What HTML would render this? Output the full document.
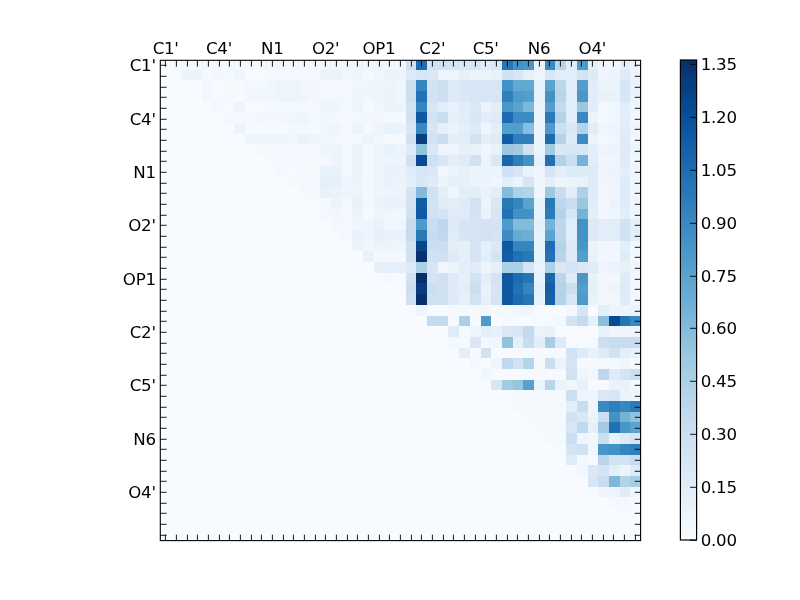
<!DOCTYPE html>
<html><head><meta charset="utf-8"><title>heatmap</title>
<style>
html,body{margin:0;padding:0;background:#fff;}
svg{display:block;}
text{font-family:"DejaVu Sans","Liberation Sans",sans-serif;font-size:16.67px;fill:#000;}
</style></head><body>
<svg width="800" height="600" viewBox="0 0 800 600">
<defs><linearGradient id="cb" x1="0" y1="1" x2="0" y2="0">
<stop offset="0" stop-color="#f7fbff"/>
<stop offset="0.125" stop-color="#deebf7"/>
<stop offset="0.25" stop-color="#c6dbef"/>
<stop offset="0.375" stop-color="#9ecae1"/>
<stop offset="0.5" stop-color="#6baed6"/>
<stop offset="0.625" stop-color="#4292c6"/>
<stop offset="0.75" stop-color="#2171b5"/>
<stop offset="0.875" stop-color="#08519c"/>
<stop offset="1" stop-color="#08306b"/>
</linearGradient></defs>
<rect x="0" y="0" width="800" height="600" fill="#fff"/>
<rect x="160" y="60" width="481" height="481" fill="#f7fbff"/>
<g shape-rendering="crispEdges">
<rect x="170" y="60" width="11" height="10" fill="#f3f8fe"/>
<rect x="181" y="60" width="21" height="10" fill="#f4f9fe"/>
<rect x="202" y="60" width="11" height="10" fill="#f3f8fe"/>
<rect x="213" y="60" width="21" height="10" fill="#f4f9fe"/>
<rect x="234" y="60" width="11" height="10" fill="#f3f8fe"/>
<rect x="245" y="60" width="22" height="10" fill="#f4f9fe"/>
<rect x="267" y="60" width="10" height="10" fill="#f3f8fe"/>
<rect x="277" y="60" width="11" height="10" fill="#f1f7fd"/>
<rect x="288" y="60" width="32" height="10" fill="#f3f8fe"/>
<rect x="320" y="60" width="32" height="10" fill="#f1f7fd"/>
<rect x="352" y="60" width="11" height="10" fill="#f0f6fd"/>
<rect x="363" y="60" width="21" height="10" fill="#f1f7fd"/>
<rect x="384" y="60" width="22" height="10" fill="#f3f8fe"/>
<rect x="406" y="60" width="10" height="10" fill="#cfe1f2"/>
<rect x="416" y="60" width="11" height="10" fill="#1d6cb1"/>
<rect x="427" y="60" width="11" height="10" fill="#d3e3f3"/>
<rect x="438" y="60" width="10" height="10" fill="#d0e2f2"/>
<rect x="448" y="60" width="11" height="10" fill="#d7e6f5"/>
<rect x="459" y="60" width="11" height="10" fill="#dae8f6"/>
<rect x="470" y="60" width="11" height="10" fill="#d7e6f5"/>
<rect x="481" y="60" width="10" height="10" fill="#e1edf8"/>
<rect x="491" y="60" width="11" height="10" fill="#dae8f6"/>
<rect x="502" y="60" width="11" height="10" fill="#2575b7"/>
<rect x="513" y="60" width="10" height="10" fill="#4292c6"/>
<rect x="523" y="60" width="11" height="10" fill="#4997c9"/>
<rect x="534" y="60" width="11" height="10" fill="#e8f2fa"/>
<rect x="545" y="60" width="10" height="10" fill="#3888c1"/>
<rect x="555" y="60" width="11" height="10" fill="#b8d5ea"/>
<rect x="566" y="60" width="11" height="10" fill="#e1edf8"/>
<rect x="577" y="60" width="11" height="10" fill="#4e9acb"/>
<rect x="588" y="60" width="10" height="10" fill="#e5f0f9"/>
<rect x="598" y="60" width="22" height="10" fill="#f0f6fd"/>
<rect x="620" y="60" width="10" height="10" fill="#e5f0f9"/>
<rect x="630" y="60" width="11" height="10" fill="#f0f6fd"/>
<rect x="181" y="70" width="21" height="10" fill="#ebf3fb"/>
<rect x="202" y="70" width="11" height="10" fill="#f4f9fe"/>
<rect x="213" y="70" width="11" height="10" fill="#f1f7fd"/>
<rect x="224" y="70" width="10" height="10" fill="#f4f9fe"/>
<rect x="234" y="70" width="11" height="10" fill="#eef5fc"/>
<rect x="245" y="70" width="22" height="10" fill="#f6faff"/>
<rect x="267" y="70" width="32" height="10" fill="#f4f9fe"/>
<rect x="299" y="70" width="21" height="10" fill="#f3f8fe"/>
<rect x="320" y="70" width="21" height="10" fill="#eaf3fb"/>
<rect x="341" y="70" width="11" height="10" fill="#f0f6fd"/>
<rect x="352" y="70" width="11" height="10" fill="#eef5fc"/>
<rect x="363" y="70" width="11" height="10" fill="#f4f9fe"/>
<rect x="374" y="70" width="10" height="10" fill="#f0f6fd"/>
<rect x="384" y="70" width="11" height="10" fill="#ebf3fb"/>
<rect x="395" y="70" width="11" height="10" fill="#edf4fc"/>
<rect x="406" y="70" width="10" height="10" fill="#deebf7"/>
<rect x="416" y="70" width="11" height="10" fill="#d7e6f5"/>
<rect x="427" y="70" width="11" height="10" fill="#dae8f6"/>
<rect x="438" y="70" width="21" height="10" fill="#edf4fc"/>
<rect x="459" y="70" width="11" height="10" fill="#e5f0f9"/>
<rect x="470" y="70" width="21" height="10" fill="#ebf3fb"/>
<rect x="491" y="70" width="11" height="10" fill="#e8f2fa"/>
<rect x="502" y="70" width="11" height="10" fill="#d0e2f2"/>
<rect x="513" y="70" width="10" height="10" fill="#d7e6f5"/>
<rect x="523" y="70" width="11" height="10" fill="#e5f0f9"/>
<rect x="534" y="70" width="11" height="10" fill="#edf4fc"/>
<rect x="545" y="70" width="10" height="10" fill="#d7e6f5"/>
<rect x="555" y="70" width="22" height="10" fill="#e1edf8"/>
<rect x="577" y="70" width="11" height="10" fill="#d3e3f3"/>
<rect x="588" y="70" width="10" height="10" fill="#ddeaf7"/>
<rect x="598" y="70" width="11" height="10" fill="#edf4fc"/>
<rect x="609" y="70" width="11" height="10" fill="#ebf3fb"/>
<rect x="620" y="70" width="10" height="10" fill="#ddeaf7"/>
<rect x="630" y="70" width="11" height="10" fill="#ebf3fb"/>
<rect x="202" y="80" width="11" height="11" fill="#f1f7fd"/>
<rect x="213" y="80" width="11" height="11" fill="#f6faff"/>
<rect x="224" y="80" width="10" height="11" fill="#f4f9fe"/>
<rect x="234" y="80" width="11" height="11" fill="#f6faff"/>
<rect x="245" y="80" width="22" height="11" fill="#f3f8fe"/>
<rect x="267" y="80" width="10" height="11" fill="#f0f6fd"/>
<rect x="277" y="80" width="22" height="11" fill="#edf4fc"/>
<rect x="299" y="80" width="21" height="11" fill="#f1f7fd"/>
<rect x="320" y="80" width="11" height="11" fill="#f4f9fe"/>
<rect x="331" y="80" width="21" height="11" fill="#f3f8fe"/>
<rect x="352" y="80" width="22" height="11" fill="#f0f6fd"/>
<rect x="374" y="80" width="10" height="11" fill="#eef5fc"/>
<rect x="384" y="80" width="11" height="11" fill="#edf4fc"/>
<rect x="395" y="80" width="11" height="11" fill="#f0f6fd"/>
<rect x="406" y="80" width="10" height="11" fill="#ccdff1"/>
<rect x="416" y="80" width="11" height="11" fill="#3585bf"/>
<rect x="427" y="80" width="11" height="11" fill="#d3e3f3"/>
<rect x="438" y="80" width="10" height="11" fill="#ccdff1"/>
<rect x="448" y="80" width="11" height="11" fill="#ddeaf7"/>
<rect x="459" y="80" width="11" height="11" fill="#dae8f6"/>
<rect x="470" y="80" width="32" height="11" fill="#d7e6f5"/>
<rect x="502" y="80" width="11" height="11" fill="#4292c6"/>
<rect x="513" y="80" width="21" height="11" fill="#62a8d2"/>
<rect x="534" y="80" width="11" height="11" fill="#e8f2fa"/>
<rect x="545" y="80" width="10" height="11" fill="#5aa3cf"/>
<rect x="555" y="80" width="11" height="11" fill="#bdd7ec"/>
<rect x="566" y="80" width="11" height="11" fill="#e1edf8"/>
<rect x="577" y="80" width="11" height="11" fill="#539ecd"/>
<rect x="588" y="80" width="10" height="11" fill="#e1edf8"/>
<rect x="598" y="80" width="22" height="11" fill="#ebf3fb"/>
<rect x="620" y="80" width="10" height="11" fill="#d7e6f5"/>
<rect x="630" y="80" width="11" height="11" fill="#e8f2fa"/>
<rect x="202" y="91" width="11" height="11" fill="#f1f7fd"/>
<rect x="213" y="91" width="11" height="11" fill="#f6faff"/>
<rect x="224" y="91" width="10" height="11" fill="#f3f8fe"/>
<rect x="234" y="91" width="11" height="11" fill="#f6faff"/>
<rect x="245" y="91" width="22" height="11" fill="#f1f7fd"/>
<rect x="267" y="91" width="10" height="11" fill="#f0f6fd"/>
<rect x="277" y="91" width="22" height="11" fill="#edf4fc"/>
<rect x="299" y="91" width="10" height="11" fill="#eef5fc"/>
<rect x="309" y="91" width="11" height="11" fill="#f1f7fd"/>
<rect x="320" y="91" width="32" height="11" fill="#f3f8fe"/>
<rect x="352" y="91" width="11" height="11" fill="#eef5fc"/>
<rect x="363" y="91" width="11" height="11" fill="#f0f6fd"/>
<rect x="374" y="91" width="10" height="11" fill="#edf4fc"/>
<rect x="384" y="91" width="11" height="11" fill="#ebf3fb"/>
<rect x="395" y="91" width="11" height="11" fill="#f0f6fd"/>
<rect x="406" y="91" width="10" height="11" fill="#ccdff1"/>
<rect x="416" y="91" width="11" height="11" fill="#2171b5"/>
<rect x="427" y="91" width="11" height="11" fill="#d3e3f3"/>
<rect x="438" y="91" width="10" height="11" fill="#ccdff1"/>
<rect x="448" y="91" width="11" height="11" fill="#ddeaf7"/>
<rect x="459" y="91" width="11" height="11" fill="#dae8f6"/>
<rect x="470" y="91" width="32" height="11" fill="#d7e6f5"/>
<rect x="502" y="91" width="11" height="11" fill="#2f7fbc"/>
<rect x="513" y="91" width="10" height="11" fill="#4e9acb"/>
<rect x="523" y="91" width="11" height="11" fill="#539ecd"/>
<rect x="534" y="91" width="11" height="11" fill="#e8f2fa"/>
<rect x="545" y="91" width="10" height="11" fill="#4292c6"/>
<rect x="555" y="91" width="11" height="11" fill="#b8d5ea"/>
<rect x="566" y="91" width="11" height="11" fill="#e1edf8"/>
<rect x="577" y="91" width="11" height="11" fill="#4997c9"/>
<rect x="588" y="91" width="10" height="11" fill="#e1edf8"/>
<rect x="598" y="91" width="22" height="11" fill="#e8f2fa"/>
<rect x="620" y="91" width="10" height="11" fill="#d7e6f5"/>
<rect x="630" y="91" width="11" height="11" fill="#e8f2fa"/>
<rect x="213" y="102" width="11" height="10" fill="#f3f8fe"/>
<rect x="224" y="102" width="10" height="10" fill="#f6faff"/>
<rect x="234" y="102" width="11" height="10" fill="#edf4fc"/>
<rect x="245" y="102" width="22" height="10" fill="#f6faff"/>
<rect x="267" y="102" width="32" height="10" fill="#f4f9fe"/>
<rect x="299" y="102" width="10" height="10" fill="#f3f8fe"/>
<rect x="309" y="102" width="11" height="10" fill="#f4f9fe"/>
<rect x="320" y="102" width="21" height="10" fill="#eef5fc"/>
<rect x="341" y="102" width="11" height="10" fill="#f3f8fe"/>
<rect x="352" y="102" width="11" height="10" fill="#edf4fc"/>
<rect x="363" y="102" width="11" height="10" fill="#f4f9fe"/>
<rect x="374" y="102" width="10" height="10" fill="#f0f6fd"/>
<rect x="384" y="102" width="11" height="10" fill="#ebf3fb"/>
<rect x="395" y="102" width="11" height="10" fill="#edf4fc"/>
<rect x="406" y="102" width="10" height="10" fill="#d3e3f3"/>
<rect x="416" y="102" width="11" height="10" fill="#3585bf"/>
<rect x="427" y="102" width="11" height="10" fill="#d7e6f5"/>
<rect x="438" y="102" width="10" height="10" fill="#e1edf8"/>
<rect x="448" y="102" width="11" height="10" fill="#e8f2fa"/>
<rect x="459" y="102" width="11" height="10" fill="#e1edf8"/>
<rect x="470" y="102" width="11" height="10" fill="#dae8f6"/>
<rect x="481" y="102" width="10" height="10" fill="#ebf3fb"/>
<rect x="491" y="102" width="11" height="10" fill="#e1edf8"/>
<rect x="502" y="102" width="11" height="10" fill="#4997c9"/>
<rect x="513" y="102" width="10" height="10" fill="#5aa3cf"/>
<rect x="523" y="102" width="11" height="10" fill="#7db8da"/>
<rect x="534" y="102" width="11" height="10" fill="#ebf3fb"/>
<rect x="545" y="102" width="10" height="10" fill="#539ecd"/>
<rect x="555" y="102" width="11" height="10" fill="#c4daee"/>
<rect x="566" y="102" width="11" height="10" fill="#e1edf8"/>
<rect x="577" y="102" width="11" height="10" fill="#9bc8e0"/>
<rect x="588" y="102" width="10" height="10" fill="#e1edf8"/>
<rect x="598" y="102" width="11" height="10" fill="#f3f8fe"/>
<rect x="609" y="102" width="11" height="10" fill="#f0f6fd"/>
<rect x="620" y="102" width="10" height="10" fill="#e1edf8"/>
<rect x="630" y="102" width="11" height="10" fill="#edf4fc"/>
<rect x="224" y="112" width="10" height="11" fill="#f3f8fe"/>
<rect x="234" y="112" width="11" height="11" fill="#f6faff"/>
<rect x="245" y="112" width="11" height="11" fill="#f4f9fe"/>
<rect x="256" y="112" width="11" height="11" fill="#f1f7fd"/>
<rect x="267" y="112" width="10" height="11" fill="#f3f8fe"/>
<rect x="277" y="112" width="11" height="11" fill="#f1f7fd"/>
<rect x="288" y="112" width="11" height="11" fill="#f0f6fd"/>
<rect x="299" y="112" width="10" height="11" fill="#eef5fc"/>
<rect x="309" y="112" width="11" height="11" fill="#f3f8fe"/>
<rect x="320" y="112" width="11" height="11" fill="#f1f7fd"/>
<rect x="331" y="112" width="10" height="11" fill="#f3f8fe"/>
<rect x="341" y="112" width="11" height="11" fill="#f4f9fe"/>
<rect x="352" y="112" width="11" height="11" fill="#f3f8fe"/>
<rect x="363" y="112" width="21" height="11" fill="#f1f7fd"/>
<rect x="384" y="112" width="22" height="11" fill="#f4f9fe"/>
<rect x="406" y="112" width="10" height="11" fill="#cfe1f2"/>
<rect x="416" y="112" width="11" height="11" fill="#0e59a2"/>
<rect x="427" y="112" width="11" height="11" fill="#d3e3f3"/>
<rect x="438" y="112" width="10" height="11" fill="#c9ddf0"/>
<rect x="448" y="112" width="11" height="11" fill="#e5f0f9"/>
<rect x="459" y="112" width="11" height="11" fill="#e1edf8"/>
<rect x="470" y="112" width="11" height="11" fill="#d7e6f5"/>
<rect x="481" y="112" width="10" height="11" fill="#e1edf8"/>
<rect x="491" y="112" width="11" height="11" fill="#ddeaf7"/>
<rect x="502" y="112" width="11" height="11" fill="#1d6cb1"/>
<rect x="513" y="112" width="21" height="11" fill="#3c8cc3"/>
<rect x="534" y="112" width="11" height="11" fill="#ebf3fb"/>
<rect x="545" y="112" width="10" height="11" fill="#2979b9"/>
<rect x="555" y="112" width="11" height="11" fill="#b3d3e8"/>
<rect x="566" y="112" width="11" height="11" fill="#e1edf8"/>
<rect x="577" y="112" width="11" height="11" fill="#3888c1"/>
<rect x="588" y="112" width="10" height="11" fill="#ebf3fb"/>
<rect x="598" y="112" width="11" height="11" fill="#f3f8fe"/>
<rect x="609" y="112" width="11" height="11" fill="#f0f6fd"/>
<rect x="620" y="112" width="10" height="11" fill="#e1edf8"/>
<rect x="630" y="112" width="11" height="11" fill="#f0f6fd"/>
<rect x="234" y="123" width="11" height="11" fill="#ebf3fb"/>
<rect x="245" y="123" width="22" height="11" fill="#f6faff"/>
<rect x="267" y="123" width="21" height="11" fill="#f4f9fe"/>
<rect x="288" y="123" width="21" height="11" fill="#f3f8fe"/>
<rect x="309" y="123" width="11" height="11" fill="#f4f9fe"/>
<rect x="320" y="123" width="11" height="11" fill="#f0f6fd"/>
<rect x="331" y="123" width="10" height="11" fill="#eef5fc"/>
<rect x="341" y="123" width="11" height="11" fill="#f3f8fe"/>
<rect x="352" y="123" width="11" height="11" fill="#ebf3fb"/>
<rect x="363" y="123" width="11" height="11" fill="#f4f9fe"/>
<rect x="374" y="123" width="10" height="11" fill="#eef5fc"/>
<rect x="384" y="123" width="11" height="11" fill="#e8f2fa"/>
<rect x="395" y="123" width="11" height="11" fill="#ebf3fb"/>
<rect x="406" y="123" width="10" height="11" fill="#d7e6f5"/>
<rect x="416" y="123" width="11" height="11" fill="#3888c1"/>
<rect x="427" y="123" width="11" height="11" fill="#d7e6f5"/>
<rect x="438" y="123" width="10" height="11" fill="#e5f0f9"/>
<rect x="448" y="123" width="11" height="11" fill="#ebf3fb"/>
<rect x="459" y="123" width="11" height="11" fill="#e2eef8"/>
<rect x="470" y="123" width="11" height="11" fill="#ddeaf7"/>
<rect x="481" y="123" width="10" height="11" fill="#eef5fc"/>
<rect x="491" y="123" width="11" height="11" fill="#e2eef8"/>
<rect x="502" y="123" width="21" height="11" fill="#539ecd"/>
<rect x="523" y="123" width="11" height="11" fill="#89bfdd"/>
<rect x="534" y="123" width="11" height="11" fill="#ebf3fb"/>
<rect x="545" y="123" width="10" height="11" fill="#4e9acb"/>
<rect x="555" y="123" width="11" height="11" fill="#ccdff1"/>
<rect x="566" y="123" width="11" height="11" fill="#dae8f6"/>
<rect x="577" y="123" width="11" height="11" fill="#b3d3e8"/>
<rect x="588" y="123" width="10" height="11" fill="#e1edf8"/>
<rect x="598" y="123" width="11" height="11" fill="#f0f6fd"/>
<rect x="609" y="123" width="11" height="11" fill="#edf4fc"/>
<rect x="620" y="123" width="10" height="11" fill="#e1edf8"/>
<rect x="630" y="123" width="11" height="11" fill="#edf4fc"/>
<rect x="245" y="134" width="11" height="10" fill="#eef5fc"/>
<rect x="256" y="134" width="11" height="10" fill="#edf4fc"/>
<rect x="267" y="134" width="21" height="10" fill="#eef5fc"/>
<rect x="288" y="134" width="11" height="10" fill="#f0f6fd"/>
<rect x="299" y="134" width="10" height="10" fill="#eaf3fb"/>
<rect x="309" y="134" width="11" height="10" fill="#eef5fc"/>
<rect x="320" y="134" width="11" height="10" fill="#f1f7fd"/>
<rect x="331" y="134" width="10" height="10" fill="#f3f8fe"/>
<rect x="341" y="134" width="11" height="10" fill="#f4f9fe"/>
<rect x="352" y="134" width="11" height="10" fill="#f3f8fe"/>
<rect x="363" y="134" width="11" height="10" fill="#edf4fc"/>
<rect x="374" y="134" width="10" height="10" fill="#f1f7fd"/>
<rect x="384" y="134" width="22" height="10" fill="#f4f9fe"/>
<rect x="406" y="134" width="10" height="10" fill="#cfe1f2"/>
<rect x="416" y="134" width="11" height="10" fill="#084082"/>
<rect x="427" y="134" width="11" height="10" fill="#d3e3f3"/>
<rect x="438" y="134" width="10" height="10" fill="#c9ddf0"/>
<rect x="448" y="134" width="11" height="10" fill="#e2eef8"/>
<rect x="459" y="134" width="11" height="10" fill="#e1edf8"/>
<rect x="470" y="134" width="11" height="10" fill="#d3e3f3"/>
<rect x="481" y="134" width="10" height="10" fill="#e2eef8"/>
<rect x="491" y="134" width="11" height="10" fill="#ddeaf7"/>
<rect x="502" y="134" width="11" height="10" fill="#125ea6"/>
<rect x="513" y="134" width="21" height="10" fill="#2f7fbc"/>
<rect x="534" y="134" width="11" height="10" fill="#ebf3fb"/>
<rect x="545" y="134" width="10" height="10" fill="#1d6cb1"/>
<rect x="555" y="134" width="11" height="10" fill="#b3d3e8"/>
<rect x="566" y="134" width="11" height="10" fill="#ddeaf7"/>
<rect x="577" y="134" width="11" height="10" fill="#3c8cc3"/>
<rect x="588" y="134" width="10" height="10" fill="#ebf3fb"/>
<rect x="598" y="134" width="11" height="10" fill="#f3f8fe"/>
<rect x="609" y="134" width="11" height="10" fill="#f0f6fd"/>
<rect x="620" y="134" width="10" height="10" fill="#deebf7"/>
<rect x="630" y="134" width="11" height="10" fill="#f0f6fd"/>
<rect x="256" y="144" width="21" height="11" fill="#f4f9fe"/>
<rect x="277" y="144" width="32" height="11" fill="#f3f8fe"/>
<rect x="309" y="144" width="11" height="11" fill="#f4f9fe"/>
<rect x="320" y="144" width="11" height="11" fill="#eef5fc"/>
<rect x="331" y="144" width="10" height="11" fill="#edf4fc"/>
<rect x="341" y="144" width="11" height="11" fill="#f3f8fe"/>
<rect x="352" y="144" width="11" height="11" fill="#ebf3fb"/>
<rect x="363" y="144" width="11" height="11" fill="#f4f9fe"/>
<rect x="374" y="144" width="10" height="11" fill="#edf4fc"/>
<rect x="384" y="144" width="11" height="11" fill="#e8f2fa"/>
<rect x="395" y="144" width="11" height="11" fill="#ebf3fb"/>
<rect x="406" y="144" width="10" height="11" fill="#ddeaf7"/>
<rect x="416" y="144" width="11" height="11" fill="#92c3de"/>
<rect x="427" y="144" width="11" height="11" fill="#dae8f6"/>
<rect x="438" y="144" width="21" height="11" fill="#edf4fc"/>
<rect x="459" y="144" width="11" height="11" fill="#e5f0f9"/>
<rect x="470" y="144" width="11" height="11" fill="#e8f2fa"/>
<rect x="481" y="144" width="10" height="11" fill="#f0f6fd"/>
<rect x="491" y="144" width="11" height="11" fill="#e8f2fa"/>
<rect x="502" y="144" width="11" height="11" fill="#9bc8e0"/>
<rect x="513" y="144" width="10" height="11" fill="#a0cbe2"/>
<rect x="523" y="144" width="11" height="11" fill="#d0e2f2"/>
<rect x="534" y="144" width="11" height="11" fill="#ebf3fb"/>
<rect x="545" y="144" width="10" height="11" fill="#a0cbe2"/>
<rect x="555" y="144" width="11" height="11" fill="#dae8f6"/>
<rect x="566" y="144" width="22" height="11" fill="#d7e6f5"/>
<rect x="588" y="144" width="10" height="11" fill="#e1edf8"/>
<rect x="598" y="144" width="11" height="11" fill="#edf4fc"/>
<rect x="609" y="144" width="11" height="11" fill="#ebf3fb"/>
<rect x="620" y="144" width="10" height="11" fill="#deebf7"/>
<rect x="630" y="144" width="11" height="11" fill="#ebf3fb"/>
<rect x="267" y="155" width="10" height="11" fill="#f4f9fe"/>
<rect x="277" y="155" width="22" height="11" fill="#f3f8fe"/>
<rect x="299" y="155" width="21" height="11" fill="#f6faff"/>
<rect x="320" y="155" width="11" height="11" fill="#f3f8fe"/>
<rect x="331" y="155" width="10" height="11" fill="#edf4fc"/>
<rect x="341" y="155" width="11" height="11" fill="#f3f8fe"/>
<rect x="352" y="155" width="11" height="11" fill="#eaf3fb"/>
<rect x="363" y="155" width="11" height="11" fill="#f3f8fe"/>
<rect x="374" y="155" width="32" height="11" fill="#edf4fc"/>
<rect x="406" y="155" width="10" height="11" fill="#d0e2f2"/>
<rect x="416" y="155" width="11" height="11" fill="#084b94"/>
<rect x="427" y="155" width="11" height="11" fill="#cfe1f2"/>
<rect x="438" y="155" width="10" height="11" fill="#d7e6f5"/>
<rect x="448" y="155" width="11" height="11" fill="#e2eef8"/>
<rect x="459" y="155" width="11" height="11" fill="#dfecf7"/>
<rect x="470" y="155" width="11" height="11" fill="#cfe1f2"/>
<rect x="481" y="155" width="10" height="11" fill="#ebf3fb"/>
<rect x="491" y="155" width="11" height="11" fill="#dae8f6"/>
<rect x="502" y="155" width="11" height="11" fill="#1866ac"/>
<rect x="513" y="155" width="10" height="11" fill="#2f7fbc"/>
<rect x="523" y="155" width="11" height="11" fill="#4292c6"/>
<rect x="534" y="155" width="11" height="11" fill="#e5f0f9"/>
<rect x="545" y="155" width="10" height="11" fill="#2171b5"/>
<rect x="555" y="155" width="11" height="11" fill="#b3d3e8"/>
<rect x="566" y="155" width="11" height="11" fill="#ccdff1"/>
<rect x="577" y="155" width="11" height="11" fill="#74b3d8"/>
<rect x="588" y="155" width="10" height="11" fill="#e1edf8"/>
<rect x="598" y="155" width="11" height="11" fill="#f0f6fd"/>
<rect x="609" y="155" width="11" height="11" fill="#eef5fc"/>
<rect x="620" y="155" width="10" height="11" fill="#dfecf7"/>
<rect x="630" y="155" width="11" height="11" fill="#f0f6fd"/>
<rect x="277" y="166" width="11" height="11" fill="#f3f8fe"/>
<rect x="288" y="166" width="11" height="11" fill="#f6faff"/>
<rect x="299" y="166" width="21" height="11" fill="#f4f9fe"/>
<rect x="320" y="166" width="21" height="11" fill="#e8f2fa"/>
<rect x="341" y="166" width="11" height="11" fill="#f3f8fe"/>
<rect x="352" y="166" width="11" height="11" fill="#ebf3fb"/>
<rect x="363" y="166" width="11" height="11" fill="#f4f9fe"/>
<rect x="374" y="166" width="10" height="11" fill="#edf4fc"/>
<rect x="384" y="166" width="11" height="11" fill="#e8f2fa"/>
<rect x="395" y="166" width="11" height="11" fill="#eaf3fb"/>
<rect x="406" y="166" width="10" height="11" fill="#dfecf7"/>
<rect x="416" y="166" width="11" height="11" fill="#d7e6f5"/>
<rect x="427" y="166" width="11" height="11" fill="#dae8f6"/>
<rect x="438" y="166" width="10" height="11" fill="#f0f6fd"/>
<rect x="448" y="166" width="11" height="11" fill="#ebf3fb"/>
<rect x="459" y="166" width="11" height="11" fill="#e5f0f9"/>
<rect x="470" y="166" width="32" height="11" fill="#ebf3fb"/>
<rect x="502" y="166" width="11" height="11" fill="#cfe1f2"/>
<rect x="513" y="166" width="10" height="11" fill="#d7e6f5"/>
<rect x="523" y="166" width="11" height="11" fill="#e8f2fa"/>
<rect x="534" y="166" width="11" height="11" fill="#eef5fc"/>
<rect x="545" y="166" width="10" height="11" fill="#d4e4f4"/>
<rect x="555" y="166" width="11" height="11" fill="#e2eef8"/>
<rect x="566" y="166" width="11" height="11" fill="#ddeaf7"/>
<rect x="577" y="166" width="11" height="11" fill="#dfecf7"/>
<rect x="588" y="166" width="10" height="11" fill="#deebf7"/>
<rect x="598" y="166" width="11" height="11" fill="#eef5fc"/>
<rect x="609" y="166" width="11" height="11" fill="#ebf3fb"/>
<rect x="620" y="166" width="10" height="11" fill="#e2eef8"/>
<rect x="630" y="166" width="11" height="11" fill="#edf4fc"/>
<rect x="288" y="177" width="11" height="10" fill="#f4f9fe"/>
<rect x="299" y="177" width="21" height="10" fill="#f3f8fe"/>
<rect x="320" y="177" width="21" height="10" fill="#e4eff9"/>
<rect x="341" y="177" width="11" height="10" fill="#eef5fc"/>
<rect x="352" y="177" width="11" height="10" fill="#edf4fc"/>
<rect x="363" y="177" width="11" height="10" fill="#f3f8fe"/>
<rect x="374" y="177" width="10" height="10" fill="#eef5fc"/>
<rect x="384" y="177" width="11" height="10" fill="#eaf3fb"/>
<rect x="395" y="177" width="11" height="10" fill="#ebf3fb"/>
<rect x="406" y="177" width="10" height="10" fill="#e2eef8"/>
<rect x="416" y="177" width="11" height="10" fill="#dae8f6"/>
<rect x="427" y="177" width="11" height="10" fill="#dfecf7"/>
<rect x="438" y="177" width="10" height="10" fill="#ebf3fb"/>
<rect x="448" y="177" width="22" height="10" fill="#e5f0f9"/>
<rect x="470" y="177" width="21" height="10" fill="#edf4fc"/>
<rect x="491" y="177" width="11" height="10" fill="#f0f6fd"/>
<rect x="502" y="177" width="11" height="10" fill="#e2eef8"/>
<rect x="513" y="177" width="10" height="10" fill="#ebf3fb"/>
<rect x="523" y="177" width="11" height="10" fill="#d7e6f5"/>
<rect x="534" y="177" width="11" height="10" fill="#eef5fc"/>
<rect x="545" y="177" width="10" height="10" fill="#e2eef8"/>
<rect x="555" y="177" width="11" height="10" fill="#edf4fc"/>
<rect x="566" y="177" width="11" height="10" fill="#ebf3fb"/>
<rect x="577" y="177" width="11" height="10" fill="#e8f2fa"/>
<rect x="588" y="177" width="10" height="10" fill="#deebf7"/>
<rect x="598" y="177" width="11" height="10" fill="#f0f6fd"/>
<rect x="609" y="177" width="11" height="10" fill="#edf4fc"/>
<rect x="620" y="177" width="10" height="10" fill="#ddeaf7"/>
<rect x="630" y="177" width="11" height="10" fill="#eef5fc"/>
<rect x="299" y="187" width="21" height="11" fill="#f4f9fe"/>
<rect x="320" y="187" width="11" height="11" fill="#e8f2fa"/>
<rect x="331" y="187" width="10" height="11" fill="#eaf3fb"/>
<rect x="341" y="187" width="11" height="11" fill="#eef5fc"/>
<rect x="352" y="187" width="11" height="11" fill="#edf4fc"/>
<rect x="363" y="187" width="11" height="11" fill="#f4f9fe"/>
<rect x="374" y="187" width="10" height="11" fill="#eef5fc"/>
<rect x="384" y="187" width="22" height="11" fill="#edf4fc"/>
<rect x="406" y="187" width="10" height="11" fill="#d4e4f4"/>
<rect x="416" y="187" width="11" height="11" fill="#83bbdb"/>
<rect x="427" y="187" width="11" height="11" fill="#d1e3f3"/>
<rect x="438" y="187" width="10" height="11" fill="#e2eef8"/>
<rect x="448" y="187" width="11" height="11" fill="#f0f6fd"/>
<rect x="459" y="187" width="22" height="11" fill="#e2eef8"/>
<rect x="481" y="187" width="10" height="11" fill="#eaf3fb"/>
<rect x="491" y="187" width="11" height="11" fill="#e2eef8"/>
<rect x="502" y="187" width="11" height="11" fill="#83bbdb"/>
<rect x="513" y="187" width="10" height="11" fill="#acd0e6"/>
<rect x="523" y="187" width="11" height="11" fill="#b3d3e8"/>
<rect x="534" y="187" width="11" height="11" fill="#eef5fc"/>
<rect x="545" y="187" width="10" height="11" fill="#9bc8e0"/>
<rect x="555" y="187" width="11" height="11" fill="#c9ddf0"/>
<rect x="566" y="187" width="11" height="11" fill="#e1edf8"/>
<rect x="577" y="187" width="11" height="11" fill="#acd0e6"/>
<rect x="588" y="187" width="10" height="11" fill="#dfecf7"/>
<rect x="598" y="187" width="11" height="11" fill="#f1f7fd"/>
<rect x="609" y="187" width="11" height="11" fill="#eef5fc"/>
<rect x="620" y="187" width="10" height="11" fill="#ddeaf7"/>
<rect x="630" y="187" width="11" height="11" fill="#f0f6fd"/>
<rect x="309" y="198" width="11" height="11" fill="#f6faff"/>
<rect x="320" y="198" width="11" height="11" fill="#f4f9fe"/>
<rect x="331" y="198" width="10" height="11" fill="#edf4fc"/>
<rect x="341" y="198" width="11" height="11" fill="#f3f8fe"/>
<rect x="352" y="198" width="11" height="11" fill="#e8f2fa"/>
<rect x="363" y="198" width="11" height="11" fill="#f3f8fe"/>
<rect x="374" y="198" width="10" height="11" fill="#eaf3fb"/>
<rect x="384" y="198" width="11" height="11" fill="#e8f2fa"/>
<rect x="395" y="198" width="11" height="11" fill="#eaf3fb"/>
<rect x="406" y="198" width="10" height="11" fill="#d3e3f3"/>
<rect x="416" y="198" width="11" height="11" fill="#125ea6"/>
<rect x="427" y="198" width="11" height="11" fill="#d1e3f3"/>
<rect x="438" y="198" width="10" height="11" fill="#dfecf7"/>
<rect x="448" y="198" width="11" height="11" fill="#e2eef8"/>
<rect x="459" y="198" width="11" height="11" fill="#dfecf7"/>
<rect x="470" y="198" width="11" height="11" fill="#d1e3f3"/>
<rect x="481" y="198" width="10" height="11" fill="#edf4fc"/>
<rect x="491" y="198" width="11" height="11" fill="#dae8f6"/>
<rect x="502" y="198" width="11" height="11" fill="#2979b9"/>
<rect x="513" y="198" width="10" height="11" fill="#3585bf"/>
<rect x="523" y="198" width="11" height="11" fill="#5aa3cf"/>
<rect x="534" y="198" width="11" height="11" fill="#e8f2fa"/>
<rect x="545" y="198" width="10" height="11" fill="#2979b9"/>
<rect x="555" y="198" width="11" height="11" fill="#bdd7ec"/>
<rect x="566" y="198" width="11" height="11" fill="#c9ddf0"/>
<rect x="577" y="198" width="11" height="11" fill="#9bc8e0"/>
<rect x="588" y="198" width="10" height="11" fill="#e1edf8"/>
<rect x="598" y="198" width="11" height="11" fill="#f1f7fd"/>
<rect x="609" y="198" width="11" height="11" fill="#ebf3fb"/>
<rect x="620" y="198" width="10" height="11" fill="#dfecf7"/>
<rect x="630" y="198" width="11" height="11" fill="#eef5fc"/>
<rect x="320" y="209" width="11" height="10" fill="#f3f8fe"/>
<rect x="331" y="209" width="10" height="10" fill="#f1f7fd"/>
<rect x="341" y="209" width="11" height="10" fill="#f4f9fe"/>
<rect x="352" y="209" width="11" height="10" fill="#edf4fc"/>
<rect x="363" y="209" width="11" height="10" fill="#f6faff"/>
<rect x="374" y="209" width="10" height="10" fill="#eef5fc"/>
<rect x="384" y="209" width="11" height="10" fill="#f0f6fd"/>
<rect x="395" y="209" width="11" height="10" fill="#f1f7fd"/>
<rect x="406" y="209" width="10" height="10" fill="#cfe1f2"/>
<rect x="416" y="209" width="11" height="10" fill="#0e59a2"/>
<rect x="427" y="209" width="11" height="10" fill="#cfe1f2"/>
<rect x="438" y="209" width="10" height="10" fill="#d4e4f4"/>
<rect x="448" y="209" width="22" height="10" fill="#dfecf7"/>
<rect x="470" y="209" width="11" height="10" fill="#d4e4f4"/>
<rect x="481" y="209" width="10" height="10" fill="#e8f2fa"/>
<rect x="491" y="209" width="11" height="10" fill="#d7e6f5"/>
<rect x="502" y="209" width="11" height="10" fill="#2171b5"/>
<rect x="513" y="209" width="21" height="10" fill="#4292c6"/>
<rect x="534" y="209" width="11" height="10" fill="#e8f2fa"/>
<rect x="545" y="209" width="10" height="10" fill="#2d7dbb"/>
<rect x="555" y="209" width="11" height="10" fill="#b3d3e8"/>
<rect x="566" y="209" width="11" height="10" fill="#d7e6f5"/>
<rect x="577" y="209" width="11" height="10" fill="#74b3d8"/>
<rect x="588" y="209" width="10" height="10" fill="#e2eef8"/>
<rect x="598" y="209" width="11" height="10" fill="#f1f7fd"/>
<rect x="609" y="209" width="11" height="10" fill="#eef5fc"/>
<rect x="620" y="209" width="10" height="10" fill="#e2eef8"/>
<rect x="630" y="209" width="11" height="10" fill="#eef5fc"/>
<rect x="331" y="219" width="21" height="11" fill="#f3f8fe"/>
<rect x="352" y="219" width="22" height="11" fill="#eef5fc"/>
<rect x="374" y="219" width="10" height="11" fill="#eaf3fb"/>
<rect x="384" y="219" width="22" height="11" fill="#f0f6fd"/>
<rect x="406" y="219" width="10" height="11" fill="#c7dcef"/>
<rect x="416" y="219" width="11" height="11" fill="#4e9acb"/>
<rect x="427" y="219" width="11" height="11" fill="#c9ddf0"/>
<rect x="438" y="219" width="10" height="11" fill="#bdd7ec"/>
<rect x="448" y="219" width="11" height="11" fill="#ddeaf7"/>
<rect x="459" y="219" width="11" height="11" fill="#d7e6f5"/>
<rect x="470" y="219" width="32" height="11" fill="#d4e4f4"/>
<rect x="502" y="219" width="11" height="11" fill="#4e9acb"/>
<rect x="513" y="219" width="21" height="11" fill="#83bbdb"/>
<rect x="534" y="219" width="11" height="11" fill="#e5f0f9"/>
<rect x="545" y="219" width="10" height="11" fill="#74b3d8"/>
<rect x="555" y="219" width="11" height="11" fill="#bdd7ec"/>
<rect x="566" y="219" width="11" height="11" fill="#e1edf8"/>
<rect x="577" y="219" width="11" height="11" fill="#4292c6"/>
<rect x="588" y="219" width="10" height="11" fill="#ddeaf7"/>
<rect x="598" y="219" width="22" height="11" fill="#e1edf8"/>
<rect x="620" y="219" width="10" height="11" fill="#d1e3f3"/>
<rect x="630" y="219" width="11" height="11" fill="#e2eef8"/>
<rect x="341" y="230" width="11" height="11" fill="#f3f8fe"/>
<rect x="352" y="230" width="11" height="11" fill="#e8f2fa"/>
<rect x="363" y="230" width="11" height="11" fill="#edf4fc"/>
<rect x="374" y="230" width="10" height="11" fill="#e5f0f9"/>
<rect x="384" y="230" width="11" height="11" fill="#e7f1fa"/>
<rect x="395" y="230" width="11" height="11" fill="#e8f2fa"/>
<rect x="406" y="230" width="10" height="11" fill="#c6dbef"/>
<rect x="416" y="230" width="11" height="11" fill="#2979b9"/>
<rect x="427" y="230" width="11" height="11" fill="#c7dcef"/>
<rect x="438" y="230" width="10" height="11" fill="#bfd8ed"/>
<rect x="448" y="230" width="11" height="11" fill="#dfecf7"/>
<rect x="459" y="230" width="11" height="11" fill="#d7e6f5"/>
<rect x="470" y="230" width="11" height="11" fill="#d4e4f4"/>
<rect x="481" y="230" width="10" height="11" fill="#d1e3f3"/>
<rect x="491" y="230" width="11" height="11" fill="#d4e4f4"/>
<rect x="502" y="230" width="11" height="11" fill="#3c8cc3"/>
<rect x="513" y="230" width="10" height="11" fill="#66abd4"/>
<rect x="523" y="230" width="11" height="11" fill="#6baed6"/>
<rect x="534" y="230" width="11" height="11" fill="#e8f2fa"/>
<rect x="545" y="230" width="10" height="11" fill="#5aa3cf"/>
<rect x="555" y="230" width="11" height="11" fill="#bdd7ec"/>
<rect x="566" y="230" width="11" height="11" fill="#e1edf8"/>
<rect x="577" y="230" width="11" height="11" fill="#4292c6"/>
<rect x="588" y="230" width="10" height="11" fill="#ddeaf7"/>
<rect x="598" y="230" width="22" height="11" fill="#e1edf8"/>
<rect x="620" y="230" width="10" height="11" fill="#cfe1f2"/>
<rect x="630" y="230" width="11" height="11" fill="#e1edf8"/>
<rect x="352" y="241" width="11" height="10" fill="#edf4fc"/>
<rect x="363" y="241" width="11" height="10" fill="#f1f7fd"/>
<rect x="374" y="241" width="21" height="10" fill="#edf4fc"/>
<rect x="395" y="241" width="11" height="10" fill="#eef5fc"/>
<rect x="406" y="241" width="10" height="10" fill="#cfe1f2"/>
<rect x="416" y="241" width="11" height="10" fill="#08468b"/>
<rect x="427" y="241" width="21" height="10" fill="#ccdff1"/>
<rect x="448" y="241" width="11" height="10" fill="#e2eef8"/>
<rect x="459" y="241" width="11" height="10" fill="#e5f0f9"/>
<rect x="470" y="241" width="11" height="10" fill="#d4e4f4"/>
<rect x="481" y="241" width="10" height="10" fill="#e5f0f9"/>
<rect x="491" y="241" width="11" height="10" fill="#dae8f6"/>
<rect x="502" y="241" width="11" height="10" fill="#0e59a2"/>
<rect x="513" y="241" width="21" height="10" fill="#3585bf"/>
<rect x="534" y="241" width="11" height="10" fill="#e8f2fa"/>
<rect x="545" y="241" width="10" height="10" fill="#1d6cb1"/>
<rect x="555" y="241" width="11" height="10" fill="#b3d3e8"/>
<rect x="566" y="241" width="11" height="10" fill="#ddeaf7"/>
<rect x="577" y="241" width="11" height="10" fill="#4997c9"/>
<rect x="588" y="241" width="10" height="10" fill="#ebf3fb"/>
<rect x="598" y="241" width="11" height="10" fill="#f1f7fd"/>
<rect x="609" y="241" width="11" height="10" fill="#f0f6fd"/>
<rect x="620" y="241" width="10" height="10" fill="#e2eef8"/>
<rect x="630" y="241" width="11" height="10" fill="#f0f6fd"/>
<rect x="363" y="251" width="11" height="11" fill="#e8f2fa"/>
<rect x="374" y="251" width="32" height="11" fill="#f3f8fe"/>
<rect x="406" y="251" width="10" height="11" fill="#d0e2f2"/>
<rect x="416" y="251" width="11" height="11" fill="#08326e"/>
<rect x="427" y="251" width="11" height="11" fill="#d1e3f3"/>
<rect x="438" y="251" width="10" height="11" fill="#d0e2f2"/>
<rect x="448" y="251" width="11" height="11" fill="#ddeaf7"/>
<rect x="459" y="251" width="11" height="11" fill="#e5f0f9"/>
<rect x="470" y="251" width="11" height="11" fill="#d4e4f4"/>
<rect x="481" y="251" width="10" height="11" fill="#e2eef8"/>
<rect x="491" y="251" width="11" height="11" fill="#d4e4f4"/>
<rect x="502" y="251" width="11" height="11" fill="#125ea6"/>
<rect x="513" y="251" width="10" height="11" fill="#2171b5"/>
<rect x="523" y="251" width="11" height="11" fill="#2979b9"/>
<rect x="534" y="251" width="11" height="11" fill="#e8f2fa"/>
<rect x="545" y="251" width="10" height="11" fill="#2171b5"/>
<rect x="555" y="251" width="11" height="11" fill="#b8d5ea"/>
<rect x="566" y="251" width="11" height="11" fill="#ddeaf7"/>
<rect x="577" y="251" width="11" height="11" fill="#539ecd"/>
<rect x="588" y="251" width="10" height="11" fill="#e8f2fa"/>
<rect x="598" y="251" width="22" height="11" fill="#f1f7fd"/>
<rect x="620" y="251" width="10" height="11" fill="#dfecf7"/>
<rect x="630" y="251" width="11" height="11" fill="#f1f7fd"/>
<rect x="374" y="262" width="10" height="11" fill="#e5f0f9"/>
<rect x="384" y="262" width="22" height="11" fill="#e4eff9"/>
<rect x="406" y="262" width="10" height="11" fill="#ddeaf7"/>
<rect x="416" y="262" width="11" height="11" fill="#acd0e6"/>
<rect x="427" y="262" width="11" height="11" fill="#d7e6f5"/>
<rect x="438" y="262" width="10" height="11" fill="#f0f6fd"/>
<rect x="448" y="262" width="11" height="11" fill="#ebf3fb"/>
<rect x="459" y="262" width="11" height="11" fill="#e2eef8"/>
<rect x="470" y="262" width="11" height="11" fill="#dfecf7"/>
<rect x="481" y="262" width="10" height="11" fill="#edf4fc"/>
<rect x="491" y="262" width="11" height="11" fill="#e5f0f9"/>
<rect x="502" y="262" width="21" height="11" fill="#acd0e6"/>
<rect x="523" y="262" width="11" height="11" fill="#d4e4f4"/>
<rect x="534" y="262" width="11" height="11" fill="#eaf3fb"/>
<rect x="545" y="262" width="10" height="11" fill="#acd0e6"/>
<rect x="555" y="262" width="11" height="11" fill="#dae8f6"/>
<rect x="566" y="262" width="11" height="11" fill="#d4e4f4"/>
<rect x="577" y="262" width="11" height="11" fill="#dae8f6"/>
<rect x="588" y="262" width="10" height="11" fill="#dfecf7"/>
<rect x="598" y="262" width="11" height="11" fill="#edf4fc"/>
<rect x="609" y="262" width="11" height="11" fill="#eaf3fb"/>
<rect x="620" y="262" width="10" height="11" fill="#e5f0f9"/>
<rect x="630" y="262" width="11" height="11" fill="#edf4fc"/>
<rect x="384" y="273" width="11" height="10" fill="#f4f9fe"/>
<rect x="395" y="273" width="11" height="10" fill="#f6faff"/>
<rect x="406" y="273" width="10" height="10" fill="#d1e3f3"/>
<rect x="416" y="273" width="11" height="10" fill="#08306b"/>
<rect x="427" y="273" width="11" height="10" fill="#d4e4f4"/>
<rect x="438" y="273" width="10" height="10" fill="#d0e2f2"/>
<rect x="448" y="273" width="11" height="10" fill="#ddeaf7"/>
<rect x="459" y="273" width="11" height="10" fill="#e5f0f9"/>
<rect x="470" y="273" width="11" height="10" fill="#d3e3f3"/>
<rect x="481" y="273" width="10" height="10" fill="#e2eef8"/>
<rect x="491" y="273" width="11" height="10" fill="#d4e4f4"/>
<rect x="502" y="273" width="11" height="10" fill="#0e59a2"/>
<rect x="513" y="273" width="10" height="10" fill="#1d6cb1"/>
<rect x="523" y="273" width="11" height="10" fill="#2575b7"/>
<rect x="534" y="273" width="11" height="10" fill="#e8f2fa"/>
<rect x="545" y="273" width="10" height="10" fill="#1866ac"/>
<rect x="555" y="273" width="11" height="10" fill="#b8d5ea"/>
<rect x="566" y="273" width="11" height="10" fill="#dfecf7"/>
<rect x="577" y="273" width="11" height="10" fill="#4997c9"/>
<rect x="588" y="273" width="10" height="10" fill="#e8f2fa"/>
<rect x="598" y="273" width="22" height="10" fill="#f1f7fd"/>
<rect x="620" y="273" width="10" height="10" fill="#dfecf7"/>
<rect x="630" y="273" width="11" height="10" fill="#f1f7fd"/>
<rect x="406" y="283" width="10" height="11" fill="#ccdff1"/>
<rect x="416" y="283" width="11" height="11" fill="#083c7d"/>
<rect x="427" y="283" width="11" height="11" fill="#ccdff1"/>
<rect x="438" y="283" width="10" height="11" fill="#cfe1f2"/>
<rect x="448" y="283" width="11" height="11" fill="#dfecf7"/>
<rect x="459" y="283" width="11" height="11" fill="#e2eef8"/>
<rect x="470" y="283" width="11" height="11" fill="#ccdff1"/>
<rect x="481" y="283" width="10" height="11" fill="#e8f2fa"/>
<rect x="491" y="283" width="11" height="11" fill="#d7e6f5"/>
<rect x="502" y="283" width="11" height="11" fill="#0e59a2"/>
<rect x="513" y="283" width="10" height="11" fill="#2171b5"/>
<rect x="523" y="283" width="11" height="11" fill="#3585bf"/>
<rect x="534" y="283" width="11" height="11" fill="#e5f0f9"/>
<rect x="545" y="283" width="10" height="11" fill="#125ea6"/>
<rect x="555" y="283" width="11" height="11" fill="#b3d3e8"/>
<rect x="566" y="283" width="11" height="11" fill="#ccdff1"/>
<rect x="577" y="283" width="11" height="11" fill="#539ecd"/>
<rect x="588" y="283" width="10" height="11" fill="#e5f0f9"/>
<rect x="598" y="283" width="11" height="11" fill="#f1f7fd"/>
<rect x="609" y="283" width="11" height="11" fill="#edf4fc"/>
<rect x="620" y="283" width="10" height="11" fill="#deebf7"/>
<rect x="630" y="283" width="11" height="11" fill="#f0f6fd"/>
<rect x="406" y="294" width="10" height="11" fill="#d0e2f2"/>
<rect x="416" y="294" width="11" height="11" fill="#08306b"/>
<rect x="427" y="294" width="21" height="11" fill="#d0e2f2"/>
<rect x="448" y="294" width="11" height="11" fill="#ddeaf7"/>
<rect x="459" y="294" width="11" height="11" fill="#e5f0f9"/>
<rect x="470" y="294" width="11" height="11" fill="#d1e3f3"/>
<rect x="481" y="294" width="10" height="11" fill="#e5f0f9"/>
<rect x="491" y="294" width="11" height="11" fill="#d4e4f4"/>
<rect x="502" y="294" width="11" height="11" fill="#0e59a2"/>
<rect x="513" y="294" width="10" height="11" fill="#1d6cb1"/>
<rect x="523" y="294" width="11" height="11" fill="#2575b7"/>
<rect x="534" y="294" width="11" height="11" fill="#e8f2fa"/>
<rect x="545" y="294" width="10" height="11" fill="#1562a9"/>
<rect x="555" y="294" width="11" height="11" fill="#b3d3e8"/>
<rect x="566" y="294" width="11" height="11" fill="#d7e6f5"/>
<rect x="577" y="294" width="11" height="11" fill="#4e9acb"/>
<rect x="588" y="294" width="10" height="11" fill="#e8f2fa"/>
<rect x="598" y="294" width="22" height="11" fill="#f1f7fd"/>
<rect x="620" y="294" width="10" height="11" fill="#dfecf7"/>
<rect x="630" y="294" width="11" height="11" fill="#f1f7fd"/>
<rect x="416" y="305" width="11" height="11" fill="#eef5fc"/>
<rect x="427" y="305" width="21" height="11" fill="#f6faff"/>
<rect x="448" y="305" width="33" height="11" fill="#f4f9fe"/>
<rect x="481" y="305" width="10" height="11" fill="#f1f7fd"/>
<rect x="491" y="305" width="22" height="11" fill="#f4f9fe"/>
<rect x="513" y="305" width="21" height="11" fill="#f0f6fd"/>
<rect x="566" y="305" width="11" height="11" fill="#f3f8fe"/>
<rect x="577" y="305" width="11" height="11" fill="#d7e6f5"/>
<rect x="598" y="305" width="11" height="11" fill="#e2eef8"/>
<rect x="609" y="305" width="21" height="11" fill="#edf4fc"/>
<rect x="630" y="305" width="11" height="11" fill="#e8f2fa"/>
<rect x="427" y="316" width="21" height="10" fill="#c4daee"/>
<rect x="448" y="316" width="11" height="10" fill="#f6faff"/>
<rect x="459" y="316" width="11" height="10" fill="#acd0e6"/>
<rect x="470" y="316" width="11" height="10" fill="#f6faff"/>
<rect x="481" y="316" width="10" height="10" fill="#4e9acb"/>
<rect x="502" y="316" width="11" height="10" fill="#f6faff"/>
<rect x="534" y="316" width="21" height="10" fill="#f6faff"/>
<rect x="555" y="316" width="11" height="10" fill="#f3f8fe"/>
<rect x="566" y="316" width="11" height="10" fill="#d3e3f3"/>
<rect x="577" y="316" width="11" height="10" fill="#c4daee"/>
<rect x="588" y="316" width="10" height="10" fill="#e5f0f9"/>
<rect x="598" y="316" width="11" height="10" fill="#89bfdd"/>
<rect x="609" y="316" width="11" height="10" fill="#084b94"/>
<rect x="620" y="316" width="10" height="10" fill="#2575b7"/>
<rect x="630" y="316" width="11" height="10" fill="#3888c1"/>
<rect x="448" y="326" width="11" height="11" fill="#dfecf7"/>
<rect x="459" y="326" width="11" height="11" fill="#f4f9fe"/>
<rect x="470" y="326" width="11" height="11" fill="#eef5fc"/>
<rect x="481" y="326" width="10" height="11" fill="#e2eef8"/>
<rect x="491" y="326" width="11" height="11" fill="#e5f0f9"/>
<rect x="502" y="326" width="11" height="11" fill="#dae8f6"/>
<rect x="513" y="326" width="10" height="11" fill="#d7e6f5"/>
<rect x="523" y="326" width="11" height="11" fill="#c4daee"/>
<rect x="534" y="326" width="11" height="11" fill="#eaf3fb"/>
<rect x="545" y="326" width="10" height="11" fill="#e8f2fa"/>
<rect x="555" y="326" width="11" height="11" fill="#f6faff"/>
<rect x="577" y="326" width="11" height="11" fill="#f6faff"/>
<rect x="598" y="326" width="11" height="11" fill="#e8f2fa"/>
<rect x="609" y="326" width="21" height="11" fill="#eef5fc"/>
<rect x="630" y="326" width="11" height="11" fill="#edf4fc"/>
<rect x="448" y="337" width="11" height="11" fill="#f3f8fe"/>
<rect x="459" y="337" width="11" height="11" fill="#f6faff"/>
<rect x="470" y="337" width="11" height="11" fill="#dae8f6"/>
<rect x="481" y="337" width="10" height="11" fill="#f3f8fe"/>
<rect x="491" y="337" width="11" height="11" fill="#f0f6fd"/>
<rect x="502" y="337" width="11" height="11" fill="#92c3de"/>
<rect x="513" y="337" width="10" height="11" fill="#e5f0f9"/>
<rect x="523" y="337" width="11" height="11" fill="#c7dcef"/>
<rect x="534" y="337" width="11" height="11" fill="#e2eef8"/>
<rect x="545" y="337" width="10" height="11" fill="#a5cde4"/>
<rect x="555" y="337" width="11" height="11" fill="#ddeaf7"/>
<rect x="566" y="337" width="32" height="11" fill="#f6faff"/>
<rect x="598" y="337" width="11" height="11" fill="#ccdff1"/>
<rect x="609" y="337" width="32" height="11" fill="#c7dcef"/>
<rect x="459" y="348" width="11" height="10" fill="#e2eef8"/>
<rect x="470" y="348" width="11" height="10" fill="#f6faff"/>
<rect x="481" y="348" width="10" height="10" fill="#d1e3f3"/>
<rect x="491" y="348" width="75" height="10" fill="#f6faff"/>
<rect x="566" y="348" width="11" height="10" fill="#d1e3f3"/>
<rect x="577" y="348" width="11" height="10" fill="#ddeaf7"/>
<rect x="588" y="348" width="10" height="10" fill="#e8f2fa"/>
<rect x="598" y="348" width="11" height="10" fill="#dfecf7"/>
<rect x="609" y="348" width="11" height="10" fill="#d1e3f3"/>
<rect x="620" y="348" width="10" height="10" fill="#e2eef8"/>
<rect x="630" y="348" width="11" height="10" fill="#e8f2fa"/>
<rect x="470" y="358" width="11" height="11" fill="#f3f8fe"/>
<rect x="491" y="358" width="11" height="11" fill="#eef5fc"/>
<rect x="502" y="358" width="11" height="11" fill="#bfd8ed"/>
<rect x="513" y="358" width="10" height="11" fill="#d1e3f3"/>
<rect x="523" y="358" width="11" height="11" fill="#b3d3e8"/>
<rect x="534" y="358" width="11" height="11" fill="#f4f9fe"/>
<rect x="545" y="358" width="10" height="11" fill="#ccdff1"/>
<rect x="555" y="358" width="11" height="11" fill="#eaf3fb"/>
<rect x="566" y="358" width="11" height="11" fill="#d4e4f4"/>
<rect x="577" y="358" width="11" height="11" fill="#f4f9fe"/>
<rect x="588" y="358" width="10" height="11" fill="#f6faff"/>
<rect x="598" y="358" width="11" height="11" fill="#f4f9fe"/>
<rect x="609" y="358" width="11" height="11" fill="#f3f8fe"/>
<rect x="620" y="358" width="10" height="11" fill="#eef5fc"/>
<rect x="630" y="358" width="11" height="11" fill="#f4f9fe"/>
<rect x="481" y="369" width="10" height="11" fill="#f0f6fd"/>
<rect x="491" y="369" width="75" height="11" fill="#f6faff"/>
<rect x="566" y="369" width="11" height="11" fill="#d1e3f3"/>
<rect x="577" y="369" width="11" height="11" fill="#eef5fc"/>
<rect x="588" y="369" width="10" height="11" fill="#f1f7fd"/>
<rect x="598" y="369" width="11" height="11" fill="#bdd7ec"/>
<rect x="609" y="369" width="11" height="11" fill="#dfecf7"/>
<rect x="620" y="369" width="10" height="11" fill="#d4e4f4"/>
<rect x="630" y="369" width="11" height="11" fill="#ccdff1"/>
<rect x="491" y="380" width="11" height="10" fill="#d7e6f5"/>
<rect x="502" y="380" width="11" height="10" fill="#a0cbe2"/>
<rect x="513" y="380" width="10" height="10" fill="#95c5df"/>
<rect x="523" y="380" width="11" height="10" fill="#58a1cf"/>
<rect x="534" y="380" width="11" height="10" fill="#ebf3fb"/>
<rect x="545" y="380" width="10" height="10" fill="#b8d5ea"/>
<rect x="555" y="380" width="11" height="10" fill="#ebf3fb"/>
<rect x="566" y="380" width="11" height="10" fill="#f0f6fd"/>
<rect x="577" y="380" width="11" height="10" fill="#e5f0f9"/>
<rect x="588" y="380" width="21" height="10" fill="#f6faff"/>
<rect x="609" y="380" width="11" height="10" fill="#eaf3fb"/>
<rect x="620" y="380" width="10" height="10" fill="#e8f2fa"/>
<rect x="630" y="380" width="11" height="10" fill="#f4f9fe"/>
<rect x="502" y="390" width="11" height="11" fill="#f6faff"/>
<rect x="513" y="390" width="53" height="11" fill="#f4f9fe"/>
<rect x="566" y="390" width="11" height="11" fill="#ccdff1"/>
<rect x="577" y="390" width="21" height="11" fill="#eef5fc"/>
<rect x="598" y="390" width="11" height="11" fill="#dae8f6"/>
<rect x="609" y="390" width="11" height="11" fill="#d7e6f5"/>
<rect x="620" y="390" width="10" height="11" fill="#ebf3fb"/>
<rect x="630" y="390" width="11" height="11" fill="#eef5fc"/>
<rect x="513" y="401" width="53" height="11" fill="#f4f9fe"/>
<rect x="566" y="401" width="11" height="11" fill="#e2eef8"/>
<rect x="577" y="401" width="11" height="11" fill="#c9ddf0"/>
<rect x="588" y="401" width="10" height="11" fill="#eef5fc"/>
<rect x="598" y="401" width="11" height="11" fill="#3a8ac2"/>
<rect x="609" y="401" width="11" height="11" fill="#2f7fbc"/>
<rect x="620" y="401" width="10" height="11" fill="#3787c0"/>
<rect x="630" y="401" width="11" height="11" fill="#2b7bba"/>
<rect x="523" y="412" width="43" height="10" fill="#f4f9fe"/>
<rect x="566" y="412" width="11" height="10" fill="#cfe1f2"/>
<rect x="577" y="412" width="11" height="10" fill="#dae8f6"/>
<rect x="588" y="412" width="10" height="10" fill="#ebf3fb"/>
<rect x="598" y="412" width="11" height="10" fill="#ccdff1"/>
<rect x="609" y="412" width="11" height="10" fill="#4292c6"/>
<rect x="620" y="412" width="10" height="10" fill="#74b3d8"/>
<rect x="630" y="412" width="11" height="10" fill="#92c3de"/>
<rect x="534" y="422" width="32" height="11" fill="#f4f9fe"/>
<rect x="566" y="422" width="11" height="11" fill="#d7e6f5"/>
<rect x="577" y="422" width="11" height="11" fill="#c1d9ed"/>
<rect x="588" y="422" width="10" height="11" fill="#e5f0f9"/>
<rect x="598" y="422" width="11" height="11" fill="#a0cbe2"/>
<rect x="609" y="422" width="11" height="11" fill="#2171b5"/>
<rect x="620" y="422" width="10" height="11" fill="#4997c9"/>
<rect x="630" y="422" width="11" height="11" fill="#5aa3cf"/>
<rect x="545" y="433" width="21" height="11" fill="#f4f9fe"/>
<rect x="566" y="433" width="11" height="11" fill="#ccdff1"/>
<rect x="577" y="433" width="11" height="11" fill="#eef5fc"/>
<rect x="588" y="433" width="10" height="11" fill="#f1f7fd"/>
<rect x="598" y="433" width="11" height="11" fill="#ccdff1"/>
<rect x="609" y="433" width="11" height="11" fill="#e8f2fa"/>
<rect x="620" y="433" width="10" height="11" fill="#ddeaf7"/>
<rect x="630" y="433" width="11" height="11" fill="#d7e6f5"/>
<rect x="555" y="444" width="11" height="11" fill="#f6faff"/>
<rect x="566" y="444" width="11" height="11" fill="#d4e4f4"/>
<rect x="577" y="444" width="11" height="11" fill="#cfe1f2"/>
<rect x="588" y="444" width="10" height="11" fill="#f0f6fd"/>
<rect x="598" y="444" width="11" height="11" fill="#4997c9"/>
<rect x="609" y="444" width="11" height="11" fill="#4292c6"/>
<rect x="620" y="444" width="10" height="11" fill="#3585bf"/>
<rect x="630" y="444" width="11" height="11" fill="#2f7fbc"/>
<rect x="566" y="455" width="11" height="10" fill="#dfecf7"/>
<rect x="577" y="455" width="11" height="10" fill="#f3f8fe"/>
<rect x="588" y="455" width="10" height="10" fill="#f6faff"/>
<rect x="598" y="455" width="11" height="10" fill="#b8d5ea"/>
<rect x="609" y="455" width="21" height="10" fill="#d1e3f3"/>
<rect x="630" y="455" width="11" height="10" fill="#c6dbef"/>
<rect x="577" y="465" width="11" height="11" fill="#f0f6fd"/>
<rect x="588" y="465" width="10" height="11" fill="#dae8f6"/>
<rect x="598" y="465" width="11" height="11" fill="#d4e4f4"/>
<rect x="609" y="465" width="11" height="11" fill="#e2eef8"/>
<rect x="620" y="465" width="10" height="11" fill="#ebf3fb"/>
<rect x="630" y="465" width="11" height="11" fill="#ddeaf7"/>
<rect x="588" y="476" width="10" height="11" fill="#d7e6f5"/>
<rect x="598" y="476" width="11" height="11" fill="#c9ddf0"/>
<rect x="609" y="476" width="11" height="11" fill="#7db8da"/>
<rect x="620" y="476" width="10" height="11" fill="#b3d3e8"/>
<rect x="630" y="476" width="11" height="11" fill="#a5cde4"/>
<rect x="598" y="487" width="11" height="10" fill="#eef5fc"/>
<rect x="609" y="487" width="11" height="10" fill="#edf4fc"/>
<rect x="620" y="487" width="10" height="10" fill="#dfecf7"/>
<rect x="630" y="487" width="11" height="10" fill="#eef5fc"/>
<rect x="609" y="497" width="21" height="11" fill="#f4f9fe"/>
<rect x="630" y="497" width="11" height="11" fill="#f6faff"/>
<rect x="620" y="508" width="21" height="11" fill="#f6faff"/>
</g>
<path d="M165.40 60 v6.6 M165.40 540.6 v-6 M160 65.30 h6.6 M640.6 65.30 h-5.8 M176.40 60 v6.6 M176.40 540.6 v-6 M160 76.30 h6.6 M640.6 76.30 h-5.8 M187.40 60 v6.6 M187.40 540.6 v-6 M160 87.30 h6.6 M640.6 87.30 h-5.8 M197.40 60 v6.6 M197.40 540.6 v-6 M160 97.30 h6.6 M640.6 97.30 h-5.8 M208.40 60 v6.6 M208.40 540.6 v-6 M160 108.30 h6.6 M640.6 108.30 h-5.8 M219.40 60 v6.6 M219.40 540.6 v-6 M160 119.30 h6.6 M640.6 119.30 h-5.8 M229.40 60 v6.6 M229.40 540.6 v-6 M160 129.30 h6.6 M640.6 129.30 h-5.8 M240.40 60 v6.6 M240.40 540.6 v-6 M160 140.30 h6.6 M640.6 140.30 h-5.8 M251.40 60 v6.6 M251.40 540.6 v-6 M160 151.30 h6.6 M640.6 151.30 h-5.8 M261.40 60 v6.6 M261.40 540.6 v-6 M160 161.30 h6.6 M640.6 161.30 h-5.8 M272.40 60 v6.6 M272.40 540.6 v-6 M160 172.30 h6.6 M640.6 172.30 h-5.8 M283.40 60 v6.6 M283.40 540.6 v-6 M160 183.30 h6.6 M640.6 183.30 h-5.8 M293.40 60 v6.6 M293.40 540.6 v-6 M160 193.30 h6.6 M640.6 193.30 h-5.8 M304.40 60 v6.6 M304.40 540.6 v-6 M160 204.30 h6.6 M640.6 204.30 h-5.8 M315.40 60 v6.6 M315.40 540.6 v-6 M160 215.30 h6.6 M640.6 215.30 h-5.8 M325.40 60 v6.6 M325.40 540.6 v-6 M160 225.30 h6.6 M640.6 225.30 h-5.8 M336.40 60 v6.6 M336.40 540.6 v-6 M160 236.30 h6.6 M640.6 236.30 h-5.8 M347.40 60 v6.6 M347.40 540.6 v-6 M160 247.30 h6.6 M640.6 247.30 h-5.8 M357.40 60 v6.6 M357.40 540.6 v-6 M160 257.30 h6.6 M640.6 257.30 h-5.8 M368.40 60 v6.6 M368.40 540.6 v-6 M160 268.30 h6.6 M640.6 268.30 h-5.8 M379.40 60 v6.6 M379.40 540.6 v-6 M160 279.30 h6.6 M640.6 279.30 h-5.8 M389.40 60 v6.6 M389.40 540.6 v-6 M160 289.30 h6.6 M640.6 289.30 h-5.8 M400.40 60 v6.6 M400.40 540.6 v-6 M160 300.30 h6.6 M640.6 300.30 h-5.8 M411.40 60 v6.6 M411.40 540.6 v-6 M160 311.30 h6.6 M640.6 311.30 h-5.8 M421.40 60 v6.6 M421.40 540.6 v-6 M160 321.30 h6.6 M640.6 321.30 h-5.8 M432.40 60 v6.6 M432.40 540.6 v-6 M160 332.30 h6.6 M640.6 332.30 h-5.8 M443.40 60 v6.6 M443.40 540.6 v-6 M160 343.30 h6.6 M640.6 343.30 h-5.8 M453.40 60 v6.6 M453.40 540.6 v-6 M160 353.30 h6.6 M640.6 353.30 h-5.8 M464.40 60 v6.6 M464.40 540.6 v-6 M160 364.30 h6.6 M640.6 364.30 h-5.8 M475.40 60 v6.6 M475.40 540.6 v-6 M160 375.30 h6.6 M640.6 375.30 h-5.8 M485.40 60 v6.6 M485.40 540.6 v-6 M160 385.30 h6.6 M640.6 385.30 h-5.8 M496.40 60 v6.6 M496.40 540.6 v-6 M160 396.30 h6.6 M640.6 396.30 h-5.8 M507.40 60 v6.6 M507.40 540.6 v-6 M160 407.30 h6.6 M640.6 407.30 h-5.8 M517.40 60 v6.6 M517.40 540.6 v-6 M160 417.30 h6.6 M640.6 417.30 h-5.8 M528.40 60 v6.6 M528.40 540.6 v-6 M160 428.30 h6.6 M640.6 428.30 h-5.8 M539.40 60 v6.6 M539.40 540.6 v-6 M160 439.30 h6.6 M640.6 439.30 h-5.8 M549.40 60 v6.6 M549.40 540.6 v-6 M160 449.30 h6.6 M640.6 449.30 h-5.8 M560.40 60 v6.6 M560.40 540.6 v-6 M160 460.30 h6.6 M640.6 460.30 h-5.8 M571.40 60 v6.6 M571.40 540.6 v-6 M160 471.30 h6.6 M640.6 471.30 h-5.8 M581.40 60 v6.6 M581.40 540.6 v-6 M160 481.30 h6.6 M640.6 481.30 h-5.8 M592.40 60 v6.6 M592.40 540.6 v-6 M160 492.30 h6.6 M640.6 492.30 h-5.8 M603.40 60 v6.6 M603.40 540.6 v-6 M160 503.30 h6.6 M640.6 503.30 h-5.8 M613.40 60 v6.6 M613.40 540.6 v-6 M160 513.30 h6.6 M640.6 513.30 h-5.8 M624.40 60 v6.6 M624.40 540.6 v-6 M160 524.30 h6.6 M640.6 524.30 h-5.8 M635.40 60 v6.6 M635.40 540.6 v-6 M160 535.30 h6.6 M640.6 535.30 h-5.8" stroke="#000" stroke-width="0.9" fill="none"/>
<rect x="160.3" y="60.3" width="480.3" height="480.3" fill="none" stroke="#000" stroke-width="1.1"/>
<text x="165.63" y="54" text-anchor="middle" letter-spacing="-0.3">C1'</text>
<text x="155.7" y="71.43" text-anchor="end" letter-spacing="-0.3">C1'</text>
<text x="218.97" y="54" text-anchor="middle" letter-spacing="-0.3">C4'</text>
<text x="155.7" y="124.77" text-anchor="end" letter-spacing="-0.3">C4'</text>
<text x="272.30" y="54" text-anchor="middle" letter-spacing="-0.3">N1</text>
<text x="155.7" y="178.10" text-anchor="end" letter-spacing="-0.3">N1</text>
<text x="325.63" y="54" text-anchor="middle" letter-spacing="-0.3">O2'</text>
<text x="155.7" y="231.43" text-anchor="end" letter-spacing="-0.3">O2'</text>
<text x="378.97" y="54" text-anchor="middle" letter-spacing="-0.3">OP1</text>
<text x="155.7" y="284.77" text-anchor="end" letter-spacing="-0.3">OP1</text>
<text x="432.30" y="54" text-anchor="middle" letter-spacing="-0.3">C2'</text>
<text x="155.7" y="338.10" text-anchor="end" letter-spacing="-0.3">C2'</text>
<text x="485.63" y="54" text-anchor="middle" letter-spacing="-0.3">C5'</text>
<text x="155.7" y="391.43" text-anchor="end" letter-spacing="-0.3">C5'</text>
<text x="538.97" y="54" text-anchor="middle" letter-spacing="-0.3">N6</text>
<text x="155.7" y="444.77" text-anchor="end" letter-spacing="-0.3">N6</text>
<text x="592.30" y="54" text-anchor="middle" letter-spacing="-0.3">O4'</text>
<text x="155.7" y="498.10" text-anchor="end" letter-spacing="-0.3">O4'</text>
<rect x="680.4" y="60" width="16.2" height="480" fill="url(#cb)" stroke="#000" stroke-width="1.2"/>
<text x="700.8" y="545.70" letter-spacing="-0.3">0.00</text>
<text x="700.8" y="492.70" letter-spacing="-0.3">0.15</text>
<text x="700.8" y="439.70" letter-spacing="-0.3">0.30</text>
<text x="700.8" y="386.70" letter-spacing="-0.3">0.45</text>
<text x="700.8" y="333.70" letter-spacing="-0.3">0.60</text>
<text x="700.8" y="281.70" letter-spacing="-0.3">0.75</text>
<text x="700.8" y="228.70" letter-spacing="-0.3">0.90</text>
<text x="700.8" y="175.70" letter-spacing="-0.3">1.05</text>
<text x="700.8" y="122.70" letter-spacing="-0.3">1.20</text>
<text x="700.8" y="69.70" letter-spacing="-0.3">1.35</text>
<path d="M696.6 540.30 h-6.6 M696.6 487.30 h-6.6 M696.6 434.30 h-6.6 M696.6 381.30 h-6.6 M696.6 328.30 h-6.6 M696.6 276.30 h-6.6 M696.6 223.30 h-6.6 M696.6 170.30 h-6.6 M696.6 117.30 h-6.6 M696.6 64.30 h-6.6" stroke="#000" stroke-width="0.9" fill="none"/>
</svg></body></html>
